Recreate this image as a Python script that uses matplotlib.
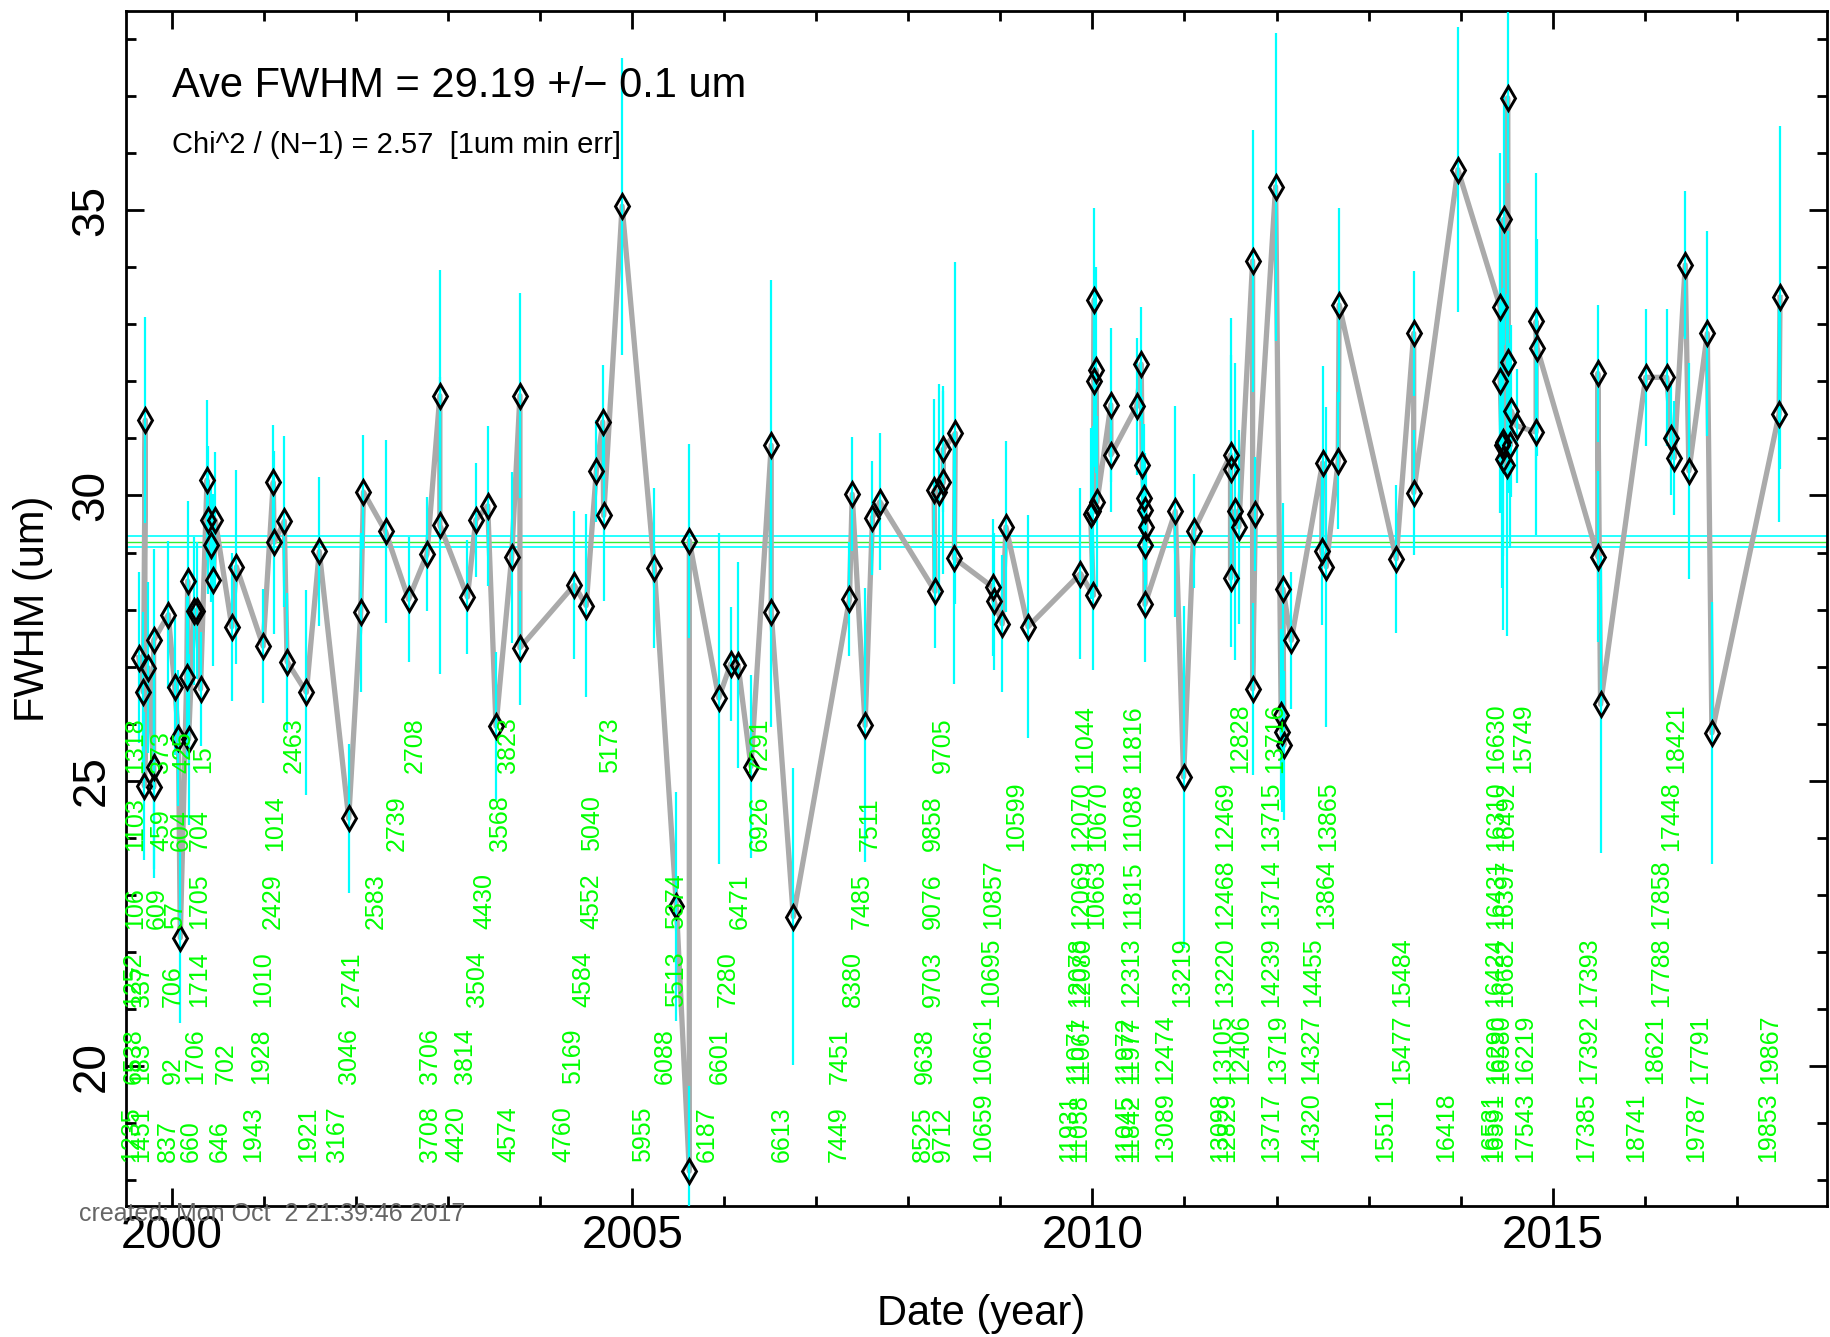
import numpy as np
import matplotlib
matplotlib.use('Agg')
import matplotlib.pyplot as plt

plt.rcParams['font.family'] = ['Liberation Sans', 'DejaVu Sans']

# FWHM measurements: date (year), fwhm (um), error (um)
dates = [1999.64, 1999.69, 1999.71, 1999.70, 1999.74, 1999.80, 1999.80, 1999.80, 1999.96, 2000.03,
         2000.07, 2000.09, 2000.16, 2000.17, 2000.18, 2000.24, 2000.27, 2000.31, 2000.38, 2000.39,
         2000.42, 2000.45, 2000.47, 2000.65, 2000.70, 2000.99, 2001.10, 2001.11, 2001.22, 2001.25,
         2001.46, 2001.60, 2001.92, 2002.05, 2002.08, 2002.32, 2002.57, 2002.77, 2002.91, 2002.91,
         2003.21, 2003.30, 2003.43, 2003.52, 2003.69, 2003.78, 2003.78, 2004.37, 2004.50, 2004.61,
         2004.68, 2004.69, 2004.89, 2005.24, 2005.48, 2005.62, 2005.62, 2005.94, 2006.07, 2006.15,
         2006.29, 2006.51, 2006.51, 2006.75, 2007.36, 2007.39, 2007.53, 2007.61, 2007.69, 2008.29,
         2008.28, 2008.33, 2008.38, 2008.38, 2008.51, 2008.50, 2008.92, 2008.93, 2009.02, 2009.06,
         2009.30, 2009.87, 2010.01, 2009.98, 2010.01, 2010.02, 2010.02, 2010.04, 2010.05, 2010.20,
         2010.20, 2010.48, 2010.53, 2010.54, 2010.56, 2010.57, 2010.58, 2010.57, 2010.57, 2010.90,
         2010.99, 2011.10, 2011.50, 2011.50, 2011.50, 2011.55, 2011.59, 2011.74, 2011.74, 2011.77,
         2011.99, 2012.05, 2012.06, 2012.08, 2012.07, 2012.16, 2012.50, 2012.49, 2012.54, 2012.67,
         2012.68, 2013.30, 2013.49, 2013.49, 2013.97, 2014.43, 2014.43, 2014.45, 2014.46, 2014.46,
         2014.47, 2014.50, 2014.51, 2014.52, 2014.54, 2014.55, 2014.61, 2014.82, 2014.82, 2014.83,
         2015.49, 2015.49, 2015.52, 2016.01, 2016.24, 2016.29, 2016.32, 2016.44, 2016.48, 2016.68,
         2016.73, 2017.46, 2017.47]
fwhm = [27.16, 26.55, 31.32, 24.91, 26.98, 25.25, 24.89, 27.46, 27.91, 26.65,
        25.75, 22.25, 26.82, 28.50, 25.73, 27.98, 27.98, 26.61, 30.27, 29.57,
        29.14, 28.52, 29.57, 27.70, 28.75, 27.36, 30.23, 29.18, 29.55, 27.09,
        26.55, 29.02, 24.34, 27.95, 30.06, 29.37, 28.18, 28.97, 31.75, 29.48,
        28.22, 29.57, 29.82, 25.96, 28.92, 31.75, 27.33, 28.43, 28.07, 30.43,
        31.29, 29.65, 35.07, 28.73, 22.80, 18.16, 29.21, 26.45, 27.05, 27.03,
        25.25, 30.88, 27.95, 22.62, 28.18, 30.02, 25.97, 29.61, 29.89, 28.32,
        30.09, 30.06, 30.23, 30.81, 31.09, 28.90, 28.39, 28.15, 27.75, 29.45,
        27.70, 28.63, 28.25, 29.68, 29.72, 33.43, 32.00, 32.20, 29.89, 31.59,
        30.71, 31.56, 32.30, 30.53, 29.96, 29.75, 29.44, 29.14, 28.09, 29.72,
        25.07, 29.38, 30.71, 30.46, 28.55, 29.72, 29.45, 34.11, 26.61, 29.68,
        35.41, 26.16, 25.86, 25.62, 28.36, 27.46, 30.57, 29.03, 28.75, 30.61,
        33.34, 28.89, 32.84, 30.05, 35.71, 33.30, 32.00, 30.88, 30.94, 30.64,
        34.84, 30.53, 36.97, 32.34, 30.88, 31.48, 31.22, 31.11, 33.05, 32.59,
        28.93, 32.14, 26.34, 32.07, 32.07, 31.00, 30.66, 34.04, 30.43, 32.84,
        25.84, 31.43, 33.47]
errs = [1.5, 1.4, 1.8, 1.3, 1.5, 1.8, 1.6, 1.6, 1.3, 1.2,
        1.2, 1.5, 1.4, 1.4, 1.5, 1.3, 1.2, 1.0, 1.4, 1.3,
        1.0, 1.5, 1.2, 1.3, 1.7, 1.0, 1.0, 1.6, 1.5, 1.2,
        1.8, 1.3, 1.3, 1.4, 1.0, 1.6, 1.1, 1.0, 2.2, 2.6,
        1.0, 1.0, 1.4, 1.3, 1.5, 1.8, 1.0, 1.3, 1.6, 0.9,
        1.0, 1.5, 2.6, 1.4, 2.0, 1.5, 1.7, 2.9, 1.0, 1.8,
        1.6, 2.9, 2.0, 2.6, 1.0, 1.0, 2.4, 1.0, 1.2, 1.0,
        1.6, 1.9, 1.6, 1.1, 3.0, 2.2, 1.2, 1.2, 1.2, 1.5,
        1.95, 1.5, 1.3, 1.5, 1.5, 1.6, 1.5, 1.8, 1.5, 1.35,
        1.0, 1.2, 1.0, 1.2, 1.3, 1.0, 1.0, 1.2, 1.0, 1.85,
        3.0, 1.0, 2.4, 2.0, 1.2, 2.6, 1.7, 2.3, 1.5, 1.0,
        2.7, 1.5, 1.4, 1.3, 1.5, 1.2, 1.7, 1.3, 2.8, 1.2,
        1.7, 1.3, 1.1, 1.1, 2.5, 2.7, 2.3, 2.5, 2.0, 3.0,
        2.2, 3.0, 1.5, 2.3, 1.8, 1.5, 1.0, 1.8, 2.6, 1.9,
        1.5, 1.2, 2.6, 1.2, 1.2, 1.0, 1.0, 1.3, 1.9, 1.8,
        2.3, 1.9, 3.0]

# run number labels: text, date, row (0 = lowest)
label_runs = ['1318', '373', '425', '15', '2463', '2708', '3823', '5173', '7291', '9705',
              '11044', '11816', '12828', '13716', '16630', '15749', '18421',
              '1103', '459', '604', '704', '1014', '2739', '3568', '5040', '6926', '7511',
              '9858', '10599', '12070', '10670', '11088', '12469', '13715', '13865', '16310',
              '16492', '17448',
              '106', '609', '57', '1705', '2429', '2583', '4430', '4552', '5374', '6471',
              '7485', '9076', '10857', '12069', '10663', '11815', '12468', '13714', '13864',
              '16431', '16397', '17858',
              '1252', '337', '706', '1714', '1010', '2741', '3504', '4584', '5513', '7280',
              '8380', '9703', '10695', '12078', '12080', '12313', '13219', '13220', '14239',
              '14455', '15484', '16424', '16682', '17393', '17788',
              '6538', '183', '92', '1706', '702', '1928', '3046', '3706', '3814', '5169',
              '6088', '6601', '7451', '9638', '10661', '11071', '11067', '11972', '11977',
              '12474', '13105', '12406', '13719', '14327', '15477', '16290', '16580', '16219',
              '17392', '18621', '17791', '19867',
              '1235', '1451', '837', '660', '646', '1943', '1921', '3167', '3708', '4420',
              '4574', '4760', '5955', '6187', '6613', '7449', '8525', '9712', '10659', '11931',
              '11058', '11045', '11842', '13089', '13098', '12829', '13717', '14320', '15511',
              '16418', '16531', '16591', '17543', '17385', '18741', '19787', '19853']
label_dates = [1999.73, 2000.01, 2000.25, 2000.47, 2001.45, 2002.77, 2003.78, 2004.89, 2006.52, 2008.51,
               2010.05, 2010.57, 2011.73, 2012.11, 2014.52, 2014.81, 2016.47,
               1999.73, 2000.02, 2000.23, 2000.43, 2001.25, 2002.57, 2003.69, 2004.69, 2006.52, 2007.71,
               2008.40, 2009.30, 2010.01, 2010.19, 2010.57, 2011.57, 2012.07, 2012.69, 2014.52,
               2014.63, 2016.42,
               1999.73, 1999.96, 2000.16, 2000.42, 2001.23, 2002.34, 2003.52, 2004.69, 2005.61, 2006.30,
               2007.62, 2008.40, 2009.05, 2010.01, 2010.17, 2010.57, 2011.57, 2012.07, 2012.67,
               2014.52, 2014.61, 2016.31,
               1999.71, 1999.80, 2000.14, 2000.42, 2001.12, 2002.08, 2003.44, 2004.60, 2005.61, 2006.17,
               2007.53, 2008.40, 2009.03, 2009.97, 2010.02, 2010.55, 2011.10, 2011.57, 2012.07,
               2012.53, 2013.49, 2014.50, 2014.61, 2015.53, 2016.31,
               1999.71, 1999.80, 2000.14, 2000.38, 2000.71, 2001.10, 2002.05, 2002.93, 2003.31, 2004.49,
               2005.48, 2006.08, 2007.39, 2008.31, 2008.94, 2009.95, 2010.01, 2010.49, 2010.55,
               2010.92, 2011.55, 2011.75, 2012.15, 2012.51, 2013.49, 2014.52, 2014.57, 2014.83,
               2015.53, 2016.24, 2016.73, 2017.49,
               1999.69, 1999.80, 2000.09, 2000.33, 2000.65, 2001.01, 2001.61, 2001.92, 2002.93, 2003.22,
               2003.78, 2004.38, 2005.25, 2005.94, 2006.75, 2007.37, 2008.29, 2008.51, 2008.94, 2009.88,
               2009.99, 2010.48, 2010.55, 2010.92, 2011.52, 2011.59, 2012.07, 2012.51, 2013.31,
               2013.97, 2014.46, 2014.50, 2014.83, 2015.49, 2016.04, 2016.69, 2017.47]
label_rows = [5] * 17 + [4] * 21 + [3] * 22 + [2] * 25 + [1] * 32 + [0] * 37

ave_fwhm = 29.19
ave_err = 0.1
chi2 = 2.57

fig = plt.figure(figsize=(18.31, 13.37), dpi=100)
ax = fig.add_axes([0.0688, 0.098, 0.929, 0.8938])

ax.axhline(ave_fwhm + ave_err, color='cyan', lw=1.2, zorder=1)
ax.axhline(ave_fwhm - ave_err, color='cyan', lw=1.2, zorder=1)
ax.axhline(ave_fwhm, color='#33ee33', lw=1.0, zorder=1)

ax.plot(dates, fwhm, color='#aaaaaa', lw=3.8, zorder=2, solid_joinstyle='round')
ax.errorbar(dates, fwhm, yerr=errs, fmt='none', ecolor='cyan', elinewidth=1.6, zorder=3)
ax.plot(dates, fwhm, 'd', ms=12.5, mfc='none', mec='black', mew=2.1, zorder=4)

row0 = 18.32
row_step = 1.362
for run, d, r in zip(label_runs, label_dates, label_rows):
    ax.text(d, row0 + r * row_step, run, rotation=90, ha='right', va='bottom',
            color='#00ff00', fontsize=18, zorder=5)

ax.text(2000.0, 36.98, 'Ave FWHM = %.2f +/\u2212 %.1f um' % (ave_fwhm, ave_err), fontsize=30)
ax.text(2000.0, 36.0, 'Chi^2 / (N\u22121) = %.2f  [1um min err]' % chi2, fontsize=21)

ax.set_xlim(1999.50, 2017.98)
ax.set_ylim(17.55, 38.49)
ax.set_xticks([2000, 2005, 2010, 2015])
ax.set_xticks(np.arange(2000, 2018), minor=True)
ax.set_yticks([20, 25, 30, 35])
ax.set_yticks(np.arange(18, 39), minor=True)
ax.tick_params(which='both', direction='in', top=True, right=True, width=2)
ax.tick_params(which='major', length=13, labelsize=33)
ax.tick_params(which='minor', length=7)
ax.tick_params(axis='x', pad=6)
ax.tick_params(axis='y', pad=9)
for lab in ax.get_yticklabels():
    lab.set_rotation(90)
    lab.set_va('center')
for s in ax.spines.values():
    s.set_linewidth(2)

fig.text(0.0179, 0.545, 'FWHM (um)', rotation=90, ha='center', va='center', fontsize=30)
fig.text(0.536, 0.0174, 'Date (year)', ha='center', va='center', fontsize=30)
fig.text(0.0434, 0.0867, 'created: Mon Oct  2 21:39:46 2017', color='#666666', fontsize=18)

fig.savefig('out.png', dpi=100)
